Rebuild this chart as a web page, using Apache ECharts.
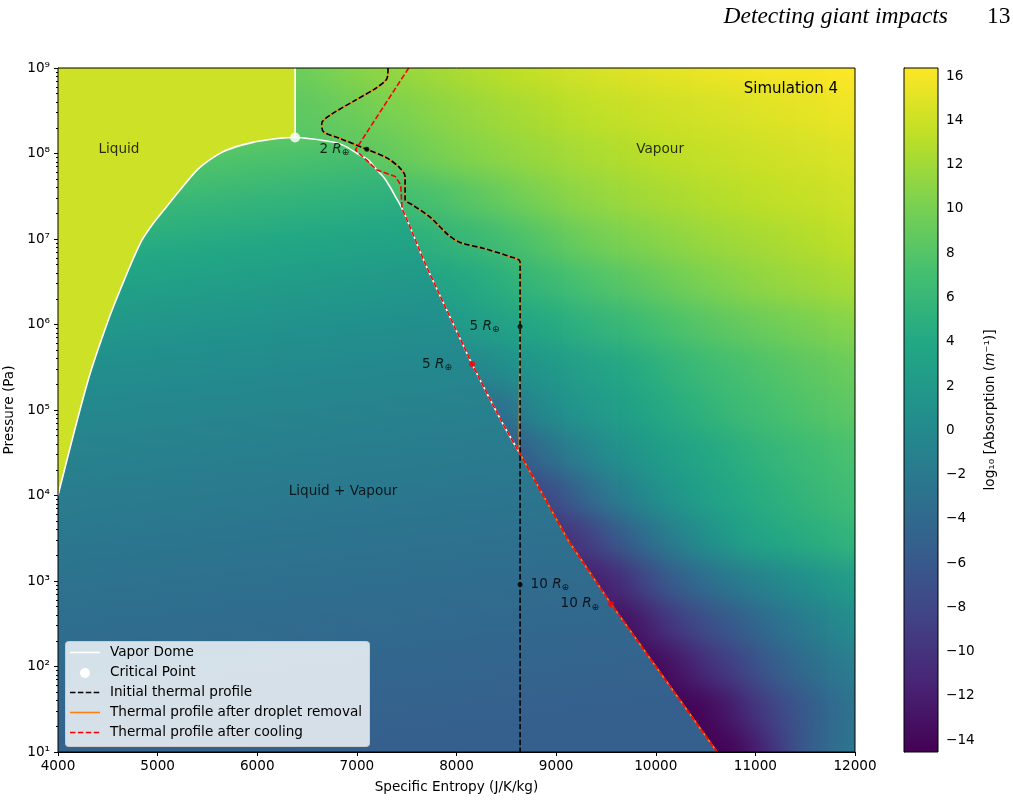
<!DOCTYPE html>
<html>
<head>
<meta charset="utf-8">
<script src="https://cdn.jsdelivr.net/npm/echarts@6/dist/echarts.min.js"></script>
<style>
  html, body {margin: 0; padding: 0; background: #fff;}
  #clip {position: absolute; left: 58px; top: 68px; width: 797px; height: 684px; overflow: hidden;}
  #bg {position: absolute; left: -58px; top: -68px; width: 1013px; height: 900px; filter: blur(13px);}
  #main {position: absolute; left: 0; top: 0; width: 1013px; height: 801px;}
</style>
</head>
<body>
<div id="clip"><div id="bg"></div></div>
<div id="main"></div>
<script>
// colour scale (log10 absorption)
const cbMin = -14.54, cbMax = 16.37;
const cbTicks = [-14, -12, -10, -8, -6, -4, -2, 0, 2, 4, 6, 8, 10, 12, 14, 16];
const viridis = ['#440154', '#482475', '#414487', '#355f8d', '#2a788e', '#21918c',
  '#22a884', '#44bf70', '#7ad151', '#bddf26', '#fde725'];

// vapour dome, entropy J/K/kg vs pressure Pa
const domeLeft = [[4000, 1.0e4], [4301, 2.2e5], [4502, 1.1e6], [4652, 3.05e6], [4753, 5.8e6],
  [4843, 9.7e6], [4944, 1.46e7], [5054, 2.12e7], [5225, 3.74e7], [5395, 6.4e7], [5526, 8.5e7],
  [5656, 1.05e8], [5807, 1.22e8], [5957, 1.35e8], [6098, 1.44e8], [6228, 1.51e8], [6380, 1.54e8]];
const domeRight = [[6380, 1.54e8], [6761, 1.36e8], [6881, 1.22e8], [7002, 1.0e8], [7112, 8.4e7],
  [7203, 6.4e7], [7273, 5.2e7], [7333, 4.06e7], [7393, 3.05e7], [7453, 2.28e7], [7513, 1.58e7],
  [7583, 1.0e7], [7644, 6.7e6], [7704, 4.6e6], [7935, 1.22e6], [8156, 3.45e5], [8346, 1.27e5],
  [8487, 6.2e4], [8630, 3.2e4]];
const lineTail = [[8630, 3.2e4], [9120, 3.0e3], [9552, 5.4e2], [10100, 69], [10616, 10]];
const criticalPoint = [6380, 1.54e8];
const criticalLine = [[6380, 1.54e8], [6380, 1.0e9]];

// thermal profiles
const initialProfile = [[7313, 1.0e9], [7303, 7.6e8], [7200, 5.9e8], [7000, 4.3e8], [6730, 2.8e8],
  [6647, 2.25e8], [6664, 1.8e8], [6830, 1.5e8], [7100, 1.12e8], [7300, 8.9e7], [7430, 6.8e7],
  [7484, 5.4e7], [7484, 2.9e7], [7560, 2.5e7], [7735, 1.8e7], [7916, 1.12e7], [8036, 9.1e6],
  [8267, 7.8e6], [8538, 6.2e6], [8638, 5.4e6], [8638, 10]];
const coolingProfile = [[7520, 1.0e9], [6985, 1.1e8], [7100, 8.3e7], [7203, 6.4e7], [7384, 5.4e7],
  [7440, 4.3e7]].concat(domeRight.slice(9), lineTail.slice(1));
const dropletTop = initialProfile.slice(0, -1).concat([lineTail[0]]);

// radius markers
const initialMarkers = [[7100, 1.12e8], [8638, 9.5e5], [8638, 9.1e2]];
const initialMarkerTags = ['2', '5', '10'];
const coolingMarkers = [[8156, 3.45e5], [9552, 5.4e2]];
const coolingMarkerTags = ['5', '10'];

// region names
const regionLabels = ['Liquid', 'Vapour', 'Liquid + Vapour'];
const regionLabelPos = [[4612, 1.1e8], [10044, 1.1e8], [6861, 1.1e4]];

// absorption values
const liquidValue = 14.05;
const domeShade = [[8.19, 8.3], [8.0, 7.6], [7.5, 5.6], [7.0, 3.9], [6.5, 2.4], [6.0, 1.1], [5.5, 0.1],
  [5.0, -0.7], [4.5, -1.4], [4.0, -2.1], [3.5, -2.7], [3.0, -3.3], [2.0, -4.3], [1.0, -5.2]];
const fieldEntropy = [5750, 6000, 6250, 6500, 6750, 7000, 7250, 7500, 7750, 8000, 8250, 8500, 8750, 9000,
  9250, 9500, 9750, 10000, 10250, 10500, 10750, 11000, 11250, 11500, 11750, 12000, 12250];
const fieldLogP = [0.5, 1, 1.5, 2, 2.5, 3, 3.5, 4, 4.5, 5, 5.5, 6, 6.5, 7, 7.5, 8, 8.5, 9, 9.5];
const vapourField = [
  [-14.5,-14.5,-14.5,-14.5,-14.5,-14.5,-14.5,-14.5,-14.5,-14.5,-14.5,-14.5,-14.5,-14.5,-14.5,-14.5,-14.5,-14.5,-14.5,-14.5,-14.5,-14.2,-12.0,-8.5,-5.5,-3.5,-2.5],
  [-14.5,-14.5,-14.5,-14.5,-14.5,-14.5,-14.5,-14.5,-14.5,-14.5,-14.5,-14.5,-14.5,-14.5,-14.5,-14.5,-14.5,-14.5,-14.5,-14.5,-14.3,-12.3,-9.0,-5.8,-3.8,-2.4,-1.8],
  [-14.5,-14.5,-14.5,-14.5,-14.5,-14.5,-14.5,-14.5,-14.5,-14.5,-14.5,-14.5,-14.5,-14.5,-14.5,-14.5,-14.5,-14.5,-14.5,-14.0,-12.3,-9.9,-7.8,-5.9,-4.2,-2.8,-2.2],
  [-14.0,-14.0,-14.0,-14.0,-14.0,-14.0,-14.0,-14.0,-14.0,-14.0,-14.0,-14.0,-14.0,-14.0,-14.0,-14.0,-14.0,-14.0,-12.6,-10.5,-9.0,-7.0,-5.2,-3.8,-2.6,-1.6,-1.1],
  [-13.2,-13.2,-13.2,-13.2,-13.2,-13.2,-13.2,-13.2,-13.2,-13.2,-13.2,-13.2,-13.2,-13.2,-13.2,-13.2,-13.2,-11.0,-8.9,-7.2,-6.0,-4.4,-3.0,-1.8,-0.7,0.4,0.9],
  [-12.0,-12.0,-12.0,-12.0,-12.0,-12.0,-12.0,-12.0,-12.0,-12.0,-12.0,-12.0,-12.0,-12.0,-12.0,-11.8,-9.6,-7.0,-5.0,-3.5,-2.3,-1.2,-0.2,0.8,1.6,2.4,2.9],
  [-10.5,-10.5,-10.5,-10.5,-10.5,-10.5,-10.5,-10.5,-10.5,-10.5,-10.5,-10.5,-10.5,-10.5,-9.5,-7.2,-4.8,-2.8,-1.0,0.6,2.2,3.3,4.0,4.6,5.1,5.5,5.8],
  [-8.5,-8.5,-8.5,-8.5,-8.5,-8.5,-8.5,-8.5,-8.5,-8.5,-8.5,-8.5,-8.5,-7.0,-4.8,-2.6,-0.9,0.6,1.8,2.9,3.8,4.5,5.1,5.7,6.2,6.7,7.0],
  [-6.5,-6.5,-6.5,-6.5,-6.5,-6.5,-6.5,-6.5,-6.5,-6.5,-6.5,-6.5,-4.5,-2.6,-1.2,0.2,1.3,2.2,3.0,3.9,4.6,5.3,5.9,6.4,6.9,7.3,7.5],
  [-3.5,-3.5,-3.5,-3.5,-3.5,-3.5,-3.5,-3.5,-3.5,-3.5,-3.5,-3.0,-0.6,0.6,1.4,2.2,3.1,3.9,4.7,5.4,6.1,6.7,7.2,7.7,8.1,8.5,8.7],
  [-0.3,-0.3,-0.3,-0.3,-0.3,-0.3,-0.3,-0.3,-0.3,-0.3,-0.2,0.6,1.3,2.0,2.7,3.4,4.2,5.0,5.7,6.4,7.0,7.5,8.0,8.5,8.9,9.3,9.5],
  [1.8,1.8,1.8,1.8,1.8,1.8,1.8,1.8,1.8,2.0,2.6,3.2,3.8,4.4,5.0,5.6,6.3,7.0,7.6,8.2,8.7,9.2,9.6,10.0,10.4,10.8,11.0],
  [3.0,3.0,3.0,3.0,3.0,3.0,3.0,3.0,3.3,3.8,4.4,5.1,5.8,6.5,7.2,7.8,8.4,9.0,9.6,10.2,10.7,11.1,11.5,11.8,12.1,12.4,12.6],
  [5.0,5.0,5.0,5.0,5.0,5.0,5.0,5.0,5.2,5.7,6.3,7.0,7.8,8.6,9.3,9.9,10.4,10.8,11.2,11.6,11.9,12.2,12.5,12.8,13.1,13.5,13.7],
  [6.5,6.5,6.5,6.6,6.7,6.8,6.9,7.0,7.3,8.0,8.6,9.3,10.0,10.6,11.1,11.5,11.9,12.2,12.5,12.8,13.0,13.3,13.5,13.7,13.9,14.2,14.3],
  [8.0,8.0,8.0,8.0,8.2,8.4,8.8,9.3,9.9,10.4,10.8,11.2,11.6,11.9,12.3,12.6,12.9,13.2,13.4,13.6,13.8,14.0,14.2,14.4,14.6,14.8,14.9],
  [8.4,8.4,8.5,8.6,9.0,9.5,10.0,10.4,10.9,11.3,11.7,12.1,12.5,12.9,13.2,13.5,13.8,14.0,14.2,14.4,14.6,14.8,15.0,15.2,15.4,15.6,15.7],
  [9.0,9.0,9.2,9.5,10.2,10.8,11.2,11.6,12.0,12.4,12.8,13.2,13.6,14.0,14.3,14.6,14.9,15.1,15.3,15.5,15.7,15.9,16.0,16.1,16.2,16.3,16.4],
  [9.2,9.3,9.5,9.9,10.6,11.2,11.6,12.0,12.4,12.8,13.2,13.6,14.0,14.3,14.6,14.9,15.2,15.4,15.6,15.8,15.9,16.1,16.2,16.3,16.3,16.4,16.4]
];

const legendNames = ['Vapor Dome', 'Critical Point', 'Initial thermal profile',
  'Thermal profile after droplet removal', 'Thermal profile after cooling'];

const FONT = 'DejaVu Sans';
const FS = 13.6;
const SMOOTH = 0.3;

function hexToRgb(h) {
  return [parseInt(h.slice(1, 3), 16), parseInt(h.slice(3, 5), 16), parseInt(h.slice(5, 7), 16)];
}
function viridisColor(v) {
  const t = Math.min(1, Math.max(0, (v - cbMin) / (cbMax - cbMin))) * 10;
  const i = Math.min(9, Math.floor(t));
  const f = t - i;
  const a = hexToRgb(viridis[i]), b = hexToRgb(viridis[i + 1]);
  return 'rgb(' + a.map((c, k) => Math.round(c + (b[k] - c) * f)).join(',') + ')';
}
const sup = {'0': '⁰', '1': '¹', '2': '²', '3': '³', '4': '⁴', '5': '⁵', '6': '⁶', '7': '⁷', '8': '⁸', '9': '⁹'};
function decadeLabel(v) {
  const e = Math.round(Math.log10(v));
  return '10' + String(e).split('').map(c => sup[c]).join('');
}

const domeCurve = domeLeft.concat(domeRight.slice(1));
const tailEdge = domeRight.slice(-2).concat(lineTail.slice(1));

const rTag = {
  i: {fontStyle: 'italic', fontSize: FS, fontFamily: FONT, color: '#000', lineHeight: 16},
  s: {fontSize: 9, fontFamily: FONT, color: '#000', verticalAlign: 'bottom', lineHeight: 9}
};
function markerData(points, tags, places) {
  return points.map((p, i) => ({
    value: p, tag: tags[i],
    label: {position: places[i][0], distance: places[i][1]}
  }));
}
const markerLabel = {
  show: true, color: '#000', fontSize: FS, fontFamily: FONT, lineHeight: 16,
  formatter: p => p.data.tag + ' {i|R}{s|⊕}', rich: rTag
};

const main = echarts.init(document.getElementById('main'));
main.setOption({
  animation: false,
  backgroundColor: 'transparent',
  textStyle: {fontFamily: FONT},
  grid: [
    {left: 58, top: 68, width: 797, height: 684, outerBoundsMode: 'none', containLabel: false,
      show: true, borderColor: '#000', borderWidth: 1, z: 10},
    {left: 904, top: 68, width: 34, height: 684, outerBoundsMode: 'none', containLabel: false,
      show: true, borderColor: '#000', borderWidth: 1, z: 10}
  ],
  xAxis: [{
    type: 'value', gridIndex: 0, min: 4000, max: 12000, interval: 1000,
    axisLine: {lineStyle: {color: '#000', width: 1}},
    axisTick: {length: 4, lineStyle: {color: '#000'}},
    axisLabel: {color: '#000', fontSize: FS, margin: 7, formatter: v => String(v)},
    splitLine: {show: false},
    name: 'Specific Entropy (J/K/kg)', nameLocation: 'middle', nameGap: 28,
    nameTextStyle: {color: '#000', fontSize: FS}
  }, {
    type: 'value', gridIndex: 1, min: 0, max: 1, show: false
  }],
  yAxis: [{
    type: 'log', logBase: 10, gridIndex: 0, min: 10, max: 1e9, splitNumber: 8,
    axisLine: {lineStyle: {color: '#000', width: 1}},
    axisTick: {length: 4, lineStyle: {color: '#000'}},
    minorTick: {show: true, splitNumber: 9, length: 2, lineStyle: {color: '#000'}},
    axisLabel: {color: '#000', fontSize: FS, margin: 8, formatter: decadeLabel},
    splitLine: {show: false},
    name: 'Pressure (Pa)', nameLocation: 'middle', nameGap: 38, nameRotate: 90,
    nameTextStyle: {color: '#000', fontSize: FS}
  }, {
    type: 'value', gridIndex: 1, min: cbMin, max: cbMax, position: 'right',
    axisLine: {show: true, lineStyle: {color: '#000', width: 1}},
    axisTick: {show: true, length: 4, customValues: cbTicks, lineStyle: {color: '#000'}},
    axisLabel: {color: '#000', fontSize: FS, margin: 8, customValues: cbTicks,
      formatter: v => (v < 0 ? '\u2212' : '') + Math.abs(v)},
    splitLine: {show: false},
    name: 'log₁₀ [Absorption ({i|m}⁻¹)]', nameLocation: 'middle', nameGap: 45, nameRotate: 90,
    nameTextStyle: {color: '#000', fontSize: FS, rich: {i: {fontStyle: 'italic', fontSize: FS, color: '#000'}}}
  }],
  series: [
    // liquid: from the left branch up to the top of the axis
    {id: 'liquid', type: 'line', silent: true, z: 1, data: domeLeft, symbol: 'none',
      smooth: SMOOTH, lineStyle: {width: 0},
      areaStyle: {origin: 'end', opacity: 1, color: viridisColor(liquidValue)}},
    // liquid + vapour: under the dome, then under its straight tail
    {id: 'mixedDome', type: 'line', silent: true, z: 1, data: domeCurve, symbol: 'none',
      smooth: SMOOTH, lineStyle: {width: 0},
      areaStyle: {origin: 'start', opacity: 1, color: viridisColor(0)}},
    {id: 'mixedTail', type: 'line', silent: true, z: 1, data: tailEdge, symbol: 'none',
      lineStyle: {width: 0},
      areaStyle: {origin: 'start', opacity: 1, color: viridisColor(0)}},
    {type: 'line', silent: true, z: 3, data: domeCurve, symbol: 'none',
      smooth: SMOOTH, lineStyle: {color: '#fff', width: 1.6}},
    {type: 'line', silent: true, z: 3, data: criticalLine, symbol: 'none',
      lineStyle: {color: '#fff', width: 1.6}},
    {type: 'line', silent: true, z: 4, data: dropletTop, symbol: 'none', smooth: SMOOTH,
      lineStyle: {color: '#ff7f0e', width: 1.6}},
    {type: 'line', silent: true, z: 4, data: lineTail, symbol: 'none',
      lineStyle: {color: '#ff7f0e', width: 1.6}},
    {type: 'line', silent: true, z: 5, data: initialProfile, symbol: 'none', smooth: SMOOTH,
      lineStyle: {color: '#000', width: 1.6, type: [5.5, 2.4]}},
    {type: 'line', silent: true, z: 6, data: coolingProfile, symbol: 'none',
      lineStyle: {color: '#ff0000', width: 1.6, type: [5.5, 2.4]}},
    {type: 'scatter', silent: true, z: 7, data: [criticalPoint], symbolSize: 10, itemStyle: {color: '#fff'}},
    {type: 'scatter', silent: true, z: 7, symbolSize: 5, itemStyle: {color: '#000'},
      data: markerData(initialMarkers, initialMarkerTags, [['left', 15], ['left', 18], ['right', 8]]),
      label: markerLabel},
    {type: 'scatter', silent: true, z: 7, symbolSize: 6, itemStyle: {color: '#ff0000'},
      data: markerData(coolingMarkers, coolingMarkerTags, [['left', 17], ['left', 9]]),
      label: markerLabel},
    {type: 'scatter', silent: true, z: 7, symbolSize: 1, itemStyle: {color: 'rgba(0,0,0,0)'},
      data: regionLabelPos.map((p, i) => ({value: p, name: regionLabels[i]})),
      label: {show: true, position: 'inside', formatter: '{b}', color: '#000', fontSize: FS, fontFamily: FONT}},
    {type: 'custom', silent: true, xAxisIndex: 1, yAxisIndex: 1, data: [[0, cbMin], [1, cbMax]],
      renderItem(params, api) {
        if (params.dataIndex !== 0) return null;
        const a = api.coord([0, cbMax]), b = api.coord([1, cbMin]);
        return {type: 'rect', shape: {x: a[0], y: a[1], width: b[0] - a[0], height: b[1] - a[1]},
          style: {fill: new echarts.graphic.LinearGradient(0, 0, 0, 1,
            viridis.map((c, i) => ({offset: i / 10, color: viridis[10 - i]})))}};
      }}
  ],
  graphic: [
    {type: 'text', x: 948, y: 17, z: 100, style: {text: 'Detecting giant impacts', align: 'right', verticalAlign: 'middle',
      fontFamily: 'Liberation Serif', fontStyle: 'italic', fontSize: 23.5, fill: '#000'}},
    {type: 'text', x: 987, y: 17, z: 100, style: {text: '13', align: 'left', verticalAlign: 'middle',
      fontFamily: 'Liberation Serif', fontSize: 23.5, fill: '#000'}},
    {type: 'text', x: 838, y: 89, z: 100, style: {text: 'Simulation 4', align: 'right', verticalAlign: 'middle',
      fontFamily: FONT, fontSize: 15, fill: '#000'}},
    {type: 'rect', x: 65.5, y: 641.5, z: 100, shape: {width: 304, height: 105, r: 3},
      style: {fill: 'rgba(255,255,255,0.8)', stroke: '#cccccc', lineWidth: 1}},
    {type: 'line', z: 101, shape: {x1: 70, y1: 652.5, x2: 100, y2: 652.5}, style: {stroke: '#fff', lineWidth: 1.6}},
    {type: 'circle', z: 101, shape: {cx: 85, cy: 673, r: 5}, style: {fill: '#fff'}},
    {type: 'line', z: 101, shape: {x1: 70, y1: 692.5, x2: 100, y2: 692.5}, style: {stroke: '#000', lineWidth: 1.6, lineDash: [5.5, 2.4]}},
    {type: 'line', z: 101, shape: {x1: 70, y1: 712.5, x2: 100, y2: 712.5}, style: {stroke: '#ff7f0e', lineWidth: 1.6}},
    {type: 'line', z: 101, shape: {x1: 70, y1: 732.5, x2: 100, y2: 732.5}, style: {stroke: '#ff0000', lineWidth: 1.6, lineDash: [5.5, 2.4]}}
  ].concat(legendNames.map((n, i) => ({
    type: 'text', x: 110, y: 652.5 + 20 * i, z: 101,
    style: {text: n, verticalAlign: 'middle', fontFamily: FONT, fontSize: FS, fill: '#000'}
  })))
});

// shade of the liquid + vapour region: pressure-driven gradient, slightly tilted
const toPx = p => main.convertToPixel({xAxisIndex: 0, yAxisIndex: 0}, p);
(function () {
  const p0 = toPx(criticalPoint);
  const pb = toPx([criticalPoint[0], 10]);
  const gy = pb[1] - p0[1], gx = 0.13 * gy;
  const stops = domeShade.map(([lp, v]) => {
    const q = toPx([criticalPoint[0], Math.pow(10, lp)]);
    const off = Math.min(1, Math.max(0, (q[1] - p0[1]) * gy / (gx * gx + gy * gy)));
    return {offset: off, color: viridisColor(v)};
  });
  const shade = () => new echarts.graphic.LinearGradient(p0[0], p0[1], p0[0] + gx, p0[1] + gy, stops, true);
  main.setOption({series: [
    {id: 'mixedDome', areaStyle: {color: shade()}},
    {id: 'mixedTail', areaStyle: {color: shade()}}
  ]});
})();

// blurred absorption field behind the overlay
const half = (fieldEntropy[1] - fieldEntropy[0]) / 2, halfLog = (fieldLogP[1] - fieldLogP[0]) / 2;
const c0 = toPx([fieldEntropy[0] - half, Math.pow(10, fieldLogP[0] - halfLog)]);
const c1 = toPx([fieldEntropy[fieldEntropy.length - 1] + half, Math.pow(10, fieldLogP[fieldLogP.length - 1] + halfLog)]);
const cells = [];
vapourField.forEach((row, r) => row.forEach((v, c) => cells.push([c, r, v])));

const bg = echarts.init(document.getElementById('bg'));
bg.setOption({
  animation: false,
  grid: {left: c0[0], top: c1[1], width: c1[0] - c0[0], height: c0[1] - c1[1], outerBoundsMode: 'none'},
  xAxis: {type: 'category', data: fieldEntropy, show: false},
  yAxis: {type: 'category', data: fieldLogP, show: false},
  visualMap: {show: false, min: cbMin, max: cbMax, inRange: {color: viridis}},
  series: [{type: 'heatmap', data: cells, silent: true, itemStyle: {borderWidth: 0}}]
});
</script>
</body>
</html>
